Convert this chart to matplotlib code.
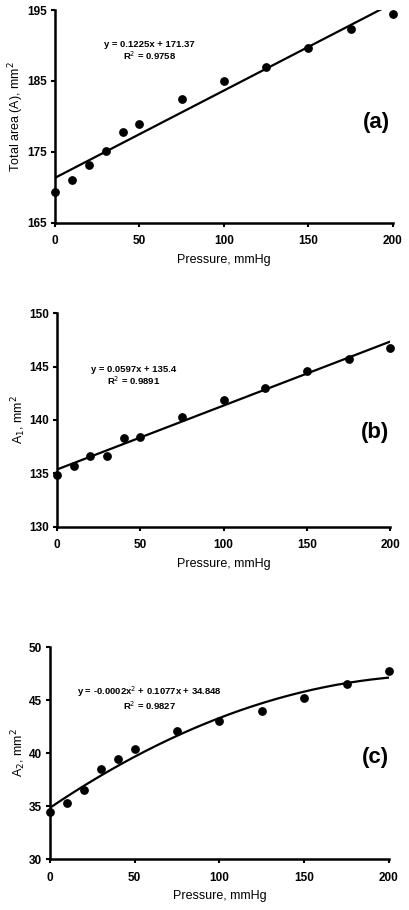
import numpy as np
import matplotlib.pyplot as plt

plt.rcParams['font.family'] = ['Liberation Sans', 'DejaVu Sans']

pressure = [0, 10, 20, 30, 40, 50, 75, 100, 125, 150, 175, 200]
total_area = [169.3, 171.0, 173.2, 175.1, 177.8, 178.9, 182.4, 185.0, 187.0, 189.7, 192.3, 194.5]
a1_area = [134.85, 135.7, 136.6, 136.6, 138.35, 138.45, 140.3, 141.9, 143.0, 144.55, 145.7, 146.7]
a2_area = [34.45, 35.25, 36.55, 38.45, 39.45, 40.4, 42.1, 43.0, 44.0, 45.15, 46.5, 47.75]

x_ticks = [0, 50, 100, 150, 200]
panels = [
    # data, fit degree, ylim, yticks, ylabel, equation, r2, tag
    (total_area, 1, (165, 195), [165, 175, 185, 195], 'Total area (A), mm$^2$',
     'y = 0.1225x + 171.37', 'R$^2$ = 0.9758', '(a)'),
    (a1_area, 1, (130, 150), [130, 135, 140, 145, 150], 'A$_1$, mm$^2$',
     'y = 0.0597x + 135.4', 'R$^2$ = 0.9891', '(b)'),
    (a2_area, 2, (30, 50), [30, 35, 40, 45, 50], 'A$_2$, mm$^2$',
     'y = -0.0002x$^2$ + 0.1077x + 34.848', 'R$^2$ = 0.9827', '(c)'),
]
positions = [
    [0.1345, 0.755, 0.826, 0.234],
    [0.139, 0.421, 0.815, 0.235],
    [0.122, 0.056, 0.829, 0.233],
]
# equation centre x (data) and y (axes fraction), tag position (axes fraction)
eq_pos = [(56, 0.808), (46, 0.706), (59, 0.76)]
tag_pos = [(0.95, 0.47), (0.955, 0.44), (0.96, 0.48)]

fig = plt.figure(figsize=(4.09, 9.10), dpi=100)

for (vals, deg, ylim, yticks, ylabel, eq, r2, tag), pos, (ex, ey), (tx, ty) in zip(
        panels, positions, eq_pos, tag_pos):
    ax = fig.add_axes(pos)
    x = np.array(pressure)
    y = np.array(vals)
    coef = np.polyfit(x, y, deg)
    xs = np.linspace(0, 200, 200)
    ax.plot(xs, np.polyval(coef, xs), color='black', lw=1.6, zorder=2)
    ax.scatter(x, y, s=28, color='black', zorder=3, clip_on=False)
    ax.set_xlim(0, 200)
    ax.set_ylim(*ylim)
    ax.set_xticks(x_ticks)
    ax.set_yticks(yticks)
    for s in ['top', 'right']:
        ax.spines[s].set_visible(False)
    for s in ['left', 'bottom']:
        ax.spines[s].set_linewidth(1.8)
    ax.tick_params(direction='out', length=3, width=1.5, labelsize=8.5)
    ax.tick_params(axis='x', pad=6)
    ax.tick_params(axis='y', pad=2.5)
    for lab in ax.get_xticklabels() + ax.get_yticklabels():
        lab.set_fontweight('bold')
    ax.set_xlabel('Pressure, mmHg', fontsize=9, labelpad=5)
    ax.set_ylabel(ylabel, fontsize=9, labelpad=1)
    ax.text(ex, ylim[0] + ey * (ylim[1] - ylim[0]), eq + '\n' + r2, fontsize=6.8,
            fontweight='bold', ha='center', va='center', multialignment='center',
            linespacing=1.05)
    ax.text(tx, ty, tag, transform=ax.transAxes, fontsize=16, fontweight='bold',
            ha='center', va='center')

fig.savefig('out.png', dpi=100)
